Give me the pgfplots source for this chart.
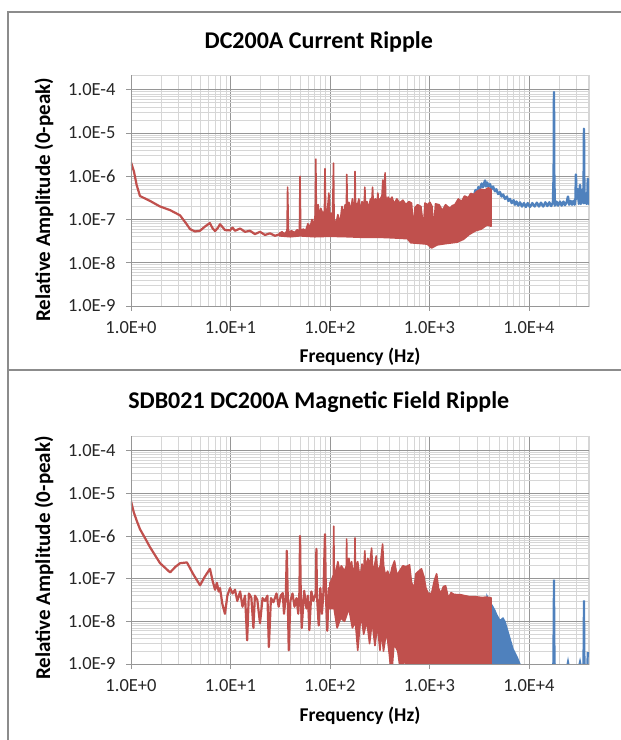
\documentclass[border=0pt]{standalone}
\usepackage{fontspec}
\setmainfont{Carlito}
\usepackage{pgfplots}
\pgfplotsset{compat=1.18}
\definecolor{exred}{HTML}{C0504D}
\definecolor{exblue}{HTML}{4F81BD}
\definecolor{gmaj}{HTML}{969696}
\definecolor{gmin}{HTML}{D6D6D6}
\definecolor{framegray}{HTML}{8C8C8C}

\begin{document}
\begin{tikzpicture}
  \path[use as bounding box] (0,0) rectangle (621pt,740pt);
  \draw[framegray, line width=1.5pt] (8pt,0pt) -- (8pt,728pt) -- (621pt,728pt);
  \draw[framegray, line width=1.5pt] (8pt,370pt) -- (621pt,370pt);

  % ---------- top: current ripple ----------
  \begin{axis}[
      xmode=log, ymode=log, scale only axis, width=458pt, height=231pt,
      at={(131pt,434pt)}, anchor=south west,
      xmin=1, xmax=40100, ymin=1e-9, ymax=2.2e-4,
      xtick={1,10,100,1000,10000},
      xticklabels={1.0E+0,1.0E+1,1.0E+2,1.0E+3,1.0E+4},
      ytick={1e-9,1e-8,1e-7,1e-6,1e-5,1e-4},
      yticklabels={1.0E-9,1.0E-8,1.0E-7,1.0E-6,1.0E-5,1.0E-4},
      minor xtick={2,3,4,5,6,7,8,9,20,30,40,50,60,70,80,90,200,300,400,500,600,700,800,900,
        2000,3000,4000,5000,6000,7000,8000,9000,20000,30000,40000},
      minor ytick={2e-9,3e-9,4e-9,5e-9,6e-9,7e-9,8e-9,9e-9,2e-8,3e-8,4e-8,5e-8,6e-8,7e-8,8e-8,9e-8,
        2e-7,3e-7,4e-7,5e-7,6e-7,7e-7,8e-7,9e-7,2e-6,3e-6,4e-6,5e-6,6e-6,7e-6,8e-6,9e-6,
        2e-5,3e-5,4e-5,5e-5,6e-5,7e-5,8e-5,9e-5},
      grid=both,
      major grid style={gmaj, line width=0.9pt},
      minor grid style={gmin, line width=0.8pt},
      axis line style={gmin, line width=0.9pt},
      tick align=outside, tick pos=left,
      major tick length=5pt, minor tick length=0pt,
      major tick style={gmaj, line width=0.9pt},
      tick label style={font=\fontsize{18.5}{18.5}\selectfont, text=black!85},
      yticklabel style={xshift=-7pt},
      xticklabel style={yshift=-7pt},
      title style={font=\bfseries\fontsize{24}{24}\selectfont, at={(rel axis cs:0.41,1)}, anchor=center, yshift=27pt},
      xlabel style={font=\bfseries\fontsize{19.5}{20}\selectfont, at={(rel axis cs:0.5,0)}, anchor=center, yshift=-51pt},
      ylabel style={font=\bfseries\fontsize{21}{21}\selectfont, at={(rel axis cs:-0.19,0.46)}, anchor=center},
      xlabel={Frequency (Hz)},
      ylabel={Relative Amplitude (0-peak)},
      title={DC200A Current Ripple}]
    % blue (visible above 2.8 kHz)
    \addplot[exblue, line width=2.4pt, line join=round] coordinates {
      (2800,3.6e-7)(2900,4.8e-7)(3000,4.2e-7)(3100,5.6e-7)(3200,5.0e-7)(3350,6.8e-7)
      (3450,5.6e-7)(3613,8.0e-7)(3700,5.8e-7)(3800,7.2e-7)(3900,5.8e-7)(4056,6.6e-7)
      (4200,5.0e-7)(4350,5.8e-7)(4553,4.5e-7)(4700,5.0e-7)(4900,3.9e-7)(5112,4.3e-7)
      (5300,3.4e-7)(5500,3.8e-7)(5738,3.0e-7)(6000,3.4e-7)(6200,2.7e-7)(6442,3.0e-7)
      (6700,2.4e-7)(7000,2.8e-7)(7232,2.2e-7)(7500,2.6e-7)(7800,2.1e-7)(8119,2.5e-7)
      (8500,2.0e-7)(8900,2.4e-7)(9300,1.95e-7)(9700,2.4e-7)(10232,1.95e-7)(10800,2.4e-7)
      (11400,2.0e-7)(12000,2.45e-7)(12600,2.0e-7)(13200,2.45e-7)(13900,2.0e-7)
      (14600,2.5e-7)(15300,2.05e-7)(16000,2.5e-7)(16700,2.05e-7)(17400,2.5e-7)
      (17700,1.1e-6)(17830,8.9e-5)(17960,1.1e-6)(18200,2.1e-7)(18900,2.6e-7)(19600,2.1e-7)
      (20484,2.6e-7)(21300,2.1e-7)(22200,2.6e-7)(23000,2.15e-7)(24000,2.6e-7)(24660,3.4e-7)
      (25300,2.2e-7)(26200,2.7e-7)(27100,2.2e-7)(28000,2.7e-7)(28800,2.2e-7)(29300,3.0e-7)
      (29650,1.1e-6)(30000,3.0e-7)(31000,5.0e-7)(31700,2.3e-7)(32570,6.3e-7)(33200,2.3e-7)
      (34000,3.0e-7)(34600,5.0e-7)(35300,2.4e-7)(35700,1.26e-5)(36100,2.4e-7)(37000,4.0e-7)
      (37800,2.3e-7)(38500,2.8e-7)(39000,8.8e-7)(39500,2.3e-7)(40100,2.7e-7)
    };
    % red, low-frequency trace
    \addplot[exred, line width=2.2pt, line join=round] coordinates {
      (1.0,2.1e-6)(1.07,1.3e-6)(1.14,6.3e-7)(1.23,3.5e-7)(1.55,2.7e-7)(1.96,2.0e-7)
      (2.47,1.65e-7)(3.11,1.25e-7)(3.6,8.0e-8)(3.92,6.0e-8)(4.4,5.3e-8)(4.94,5.5e-8)
      (5.5,6.8e-8)(6.2,8.3e-8)(6.6,6.3e-8)(7.0,5.4e-8)(7.5,6.5e-8)(7.84,7.8e-8)(8.4,6.5e-8)
      (8.8,5.7e-8)(9.9,5.6e-8)(10.5,6.5e-8)(11.1,5.5e-8)(12.5,6.2e-8)(14,5.2e-8)
      (15.7,5.5e-8)(17.6,4.6e-8)(19.8,5.2e-8)(22.2,4.4e-8)(24.9,4.8e-8)(28,4.2e-8)
      (31.4,4.6e-8)(33,4.4e-8)
    };
    % red, dense band: upper envelope then lower envelope
    \addplot[exred, fill=exred, line width=1.6pt, line join=round] coordinates {
      (31,4.8e-8)(33,5.2e-8)(35,4.6e-8)(37,5.5e-8)(37.5,5.6e-7)(38.3,5.0e-8)(41,5.5e-8)
      (44,5.0e-8)(47,5.8e-8)(49.3,5.2e-8)(50,1.0e-6)(50.8,5.5e-8)(54,6.0e-8)(57,5.5e-8)
      (60,8.0e-8)(63,6.5e-8)(66,1.0e-7)(69,7.0e-8)(71,1.3e-7)(72,2.5e-6)(73,1.4e-7)
      (76,2.2e-7)(78,1.2e-7)(81,1.8e-7)(85,1.3e-7)(88,1.6e-7)(89,1.5e-6)(90.5,1.8e-7)
      (94,1.5e-7)(97.5,4.1e-7)(99,1.2e-7)(103,1.4e-7)(106,1.1e-7)(108.5,2.0e-6)(110,1.0e-7)
      (115,8.0e-8)(120,1.3e-7)(126,8.0e-8)(132,2.0e-7)(137,1.2e-7)(142,2.2e-7)(146,1.5e-7)
      (147.5,1.1e-6)(149.5,1.8e-7)(155,2.5e-7)(162,1.6e-7)(168,3.0e-7)(173,1.5e-7)
      (177,2.2e-7)(178.5,1.3e-6)(180.5,2.5e-7)(188,2.0e-7)(195,3.0e-7)(202,1.5e-7)
      (210,2.6e-7)(218,2.0e-7)(222,3.0e-7)(224,5.6e-7)(227,2.3e-7)(235,2.6e-7)(245,1.8e-7)
      (255,3.0e-7)(262,2.2e-7)(268,5.6e-7)(272,2.5e-7)(285,3.0e-7)(298,2.5e-7)(303,4.1e-7)
      (308,2.2e-7)(320,3.0e-7)(333,3.5e-7)(340,8.2e-7)(346,3.5e-7)(352,5.0e-7)(358,1.2e-6)
      (363,3.5e-7)(372,2.5e-7)(385,3.3e-7)(400,2.8e-7)(420,3.3e-7)(440,2.3e-7)(470,3.0e-7)
      (500,2.4e-7)(540,2.8e-7)(580,2.2e-7)(620,2.6e-7)(660,2.4e-7)(690,6.0e-8)(715,1.9e-7)
      (760,2.2e-7)(820,2.0e-7)(870,6.5e-8)(900,2.4e-7)(960,2.2e-7)(1010,2.5e-7)(1060,2.0e-7)
      (1100,6.0e-8)(1150,2.3e-7)(1250,2.2e-7)(1350,1.6e-7)(1450,2.2e-7)(1600,1.8e-7)
      (1700,2.1e-7)(1800,2.2e-7)(1950,3.0e-7)(2100,2.6e-7)(2250,3.5e-7)(2450,3.2e-7)
      (2600,4.0e-7)(2800,3.8e-7)(3000,4.5e-7)(3300,5.0e-7)(3600,4.8e-7)(3900,5.4e-7)
      (4150,5.0e-7)
      (4150,7.0e-8)(3800,7.5e-8)(3300,6.0e-8)(2900,5.5e-8)(2500,4.5e-8)(2200,3.5e-8)
      (1900,3.0e-8)(1500,2.8e-8)(1200,2.6e-8)(1050,2.2e-8)(950,2.7e-8)(800,2.8e-8)
      (650,2.9e-8)(600,3.6e-8)(500,3.7e-8)(400,3.8e-8)(300,3.9e-8)(200,3.9e-8)(150,4.0e-8)
      (100,4.1e-8)(70,4.0e-8)(50,4.2e-8)(40,4.0e-8)(31,4.2e-8)
    } -- cycle;
    \draw[gmaj, line width=0.9pt] (rel axis cs:0,1) -- (rel axis cs:0,0) -- (rel axis cs:1,0);
  \end{axis}

  % ---------- bottom: magnetic field ripple ----------
  \begin{axis}[
      xmode=log, ymode=log, scale only axis, width=458pt, height=228pt,
      at={(131pt,76pt)}, anchor=south west,
      xmin=1, xmax=40100, ymin=1e-9, ymax=2.2e-4,
      xtick={1,10,100,1000,10000},
      xticklabels={1.0E+0,1.0E+1,1.0E+2,1.0E+3,1.0E+4},
      ytick={1e-9,1e-8,1e-7,1e-6,1e-5,1e-4},
      yticklabels={1.0E-9,1.0E-8,1.0E-7,1.0E-6,1.0E-5,1.0E-4},
      minor xtick={2,3,4,5,6,7,8,9,20,30,40,50,60,70,80,90,200,300,400,500,600,700,800,900,
        2000,3000,4000,5000,6000,7000,8000,9000,20000,30000,40000},
      minor ytick={2e-9,3e-9,4e-9,5e-9,6e-9,7e-9,8e-9,9e-9,2e-8,3e-8,4e-8,5e-8,6e-8,7e-8,8e-8,9e-8,
        2e-7,3e-7,4e-7,5e-7,6e-7,7e-7,8e-7,9e-7,2e-6,3e-6,4e-6,5e-6,6e-6,7e-6,8e-6,9e-6,
        2e-5,3e-5,4e-5,5e-5,6e-5,7e-5,8e-5,9e-5},
      grid=both,
      major grid style={gmaj, line width=0.9pt},
      minor grid style={gmin, line width=0.8pt},
      axis line style={gmin, line width=0.9pt},
      tick align=outside, tick pos=left,
      major tick length=5pt, minor tick length=0pt,
      major tick style={gmaj, line width=0.9pt},
      tick label style={font=\fontsize{18.5}{18.5}\selectfont, text=black!85},
      yticklabel style={xshift=-7pt},
      xticklabel style={yshift=-7pt},
      title style={font=\bfseries\fontsize{24}{24}\selectfont, at={(rel axis cs:0.41,1)}, anchor=center, yshift=28pt},
      xlabel style={font=\bfseries\fontsize{19.5}{20}\selectfont, at={(rel axis cs:0.5,0)}, anchor=center, yshift=-52pt},
      ylabel style={font=\bfseries\fontsize{21}{21}\selectfont, at={(rel axis cs:-0.19,0.465)}, anchor=center},
      xlabel={Frequency (Hz)},
      ylabel={Relative Amplitude (0-peak)},
      title={SDB021 DC200A Magnetic Field Ripple}]
    % blue hump above the red trace end
    \addplot[exblue, fill=exblue, line width=1.2pt] coordinates {
      (3784,4.0e-8)(4150,2.6e-8)(4347,2.2e-8)(4553,1.8e-8)(4768,1.4e-8)(5112,1.05e-8)
      (5478,1.2e-8)(5738,1.0e-8)(6009,7.0e-9)(6442,4.0e-9)(6902,2.3e-9)(7568,1.5e-9)
      (8119,1.0e-9)(8119,5e-10)(3784,5e-10)
    } -- cycle;
    \addplot[exblue, line width=2.2pt] coordinates {
      (8119,8e-10)(17400,8e-10)(17600,1.1e-9)(17830,9.5e-8)(18050,1.1e-9)(18300,8e-10)
      (24000,8e-10)(24660,1.1e-9)(25300,8e-10)(31500,8e-10)(32570,1.1e-9)(33500,8e-10)
      (35300,1.0e-9)(35700,3.1e-8)(36100,1.0e-9)(38500,8e-10)(39000,1.8e-9)(40100,1.8e-9)
    };
    % red, low-frequency trace
    \addplot[exred, line width=2.2pt, line join=round] coordinates {
      (1,6.5e-6)(1.07,3.5e-6)(1.14,2.3e-6)(1.23,1.45e-6)(1.4,8.5e-7)(1.55,5.5e-7)
      (1.75,3.5e-7)(1.96,2.3e-7)(2.2,1.8e-7)(2.47,1.4e-7)(2.8,1.9e-7)(3.11,2.3e-7)
      (3.65,2.4e-7)(4.2,1.3e-7)(4.94,7.0e-8)(5.5,1.1e-7)(6.22,1.7e-7)(6.6,9.0e-8)
      (7.0,5.5e-8)(7.3,8.0e-8)(7.6,5.0e-8)(7.84,6.0e-8)(8.3,2.5e-8)(8.8,1.5e-8)(9.3,4.0e-8)
      (9.9,6.0e-8)(10.5,4.5e-8)(11.1,5.5e-8)(11.7,3.0e-8)(12.5,5.0e-8)(13.2,2.2e-8)
      (14,4.0e-8)(14.7,3.6e-9)(15.3,4.5e-8)(16.2,3.6e-8)(17,7.0e-9)(17.6,4.0e-8)
      (18.6,3.2e-8)(19.8,9.0e-9)(21,3.5e-8)(22.2,3.0e-8)(23.5,4.0e-8)(24.3,2.5e-9)
      (25.5,3.5e-8)(27,2.8e-8)(29,4.5e-8)(30.5,2.2e-8)(32,4.0e-8)(33.5,4.6e-8)(34.5,1.5e-8)
      (36,4.0e-8)(36.8,4.5e-7)(37.6,4.0e-8)(38.5,2.1e-9)(40,3.0e-8)(42,4.5e-8)(44,2.2e-8)
      (46,3.5e-8)(48,1.5e-8)(49.3,5.0e-8)(50,1.0e-6)(50.8,5.0e-8)(52,7.0e-9)(55,5.2e-8)
      (58,2.0e-8)(60,4.0e-8)(62,6.2e-9)(65,5.0e-8)(68,3.0e-8)(72,4.5e-8)(73,5.0e-7)
      (74,4.0e-8)(77,8.0e-9)(80,6.0e-8)(83,1.5e-8)(86,5.0e-8)(89,1.1e-6)(91,4.0e-8)
      (94,6.0e-9)(97,6.0e-8)(100,2.0e-8)(103,8.0e-8)
    };
    % red, dense band: upper envelope then lower envelope
    \addplot[exred, fill=exred, line width=1.6pt, line join=round] coordinates {
      (100,8.0e-8)(105,1.0e-7)(108,1.2e-7)(109,1.7e-6)(110.5,1.2e-7)(115,1.5e-7)
      (120,2.5e-7)(125,1.5e-7)(130,2.0e-7)(140,1.5e-7)(146,2.0e-7)(147,8.5e-7)(148.5,2.0e-7)
      (155,3.0e-7)(160,1.6e-7)(165,2.5e-7)(170,1.2e-7)(177,2.0e-7)(178.5,9.0e-7)
      (180,1.8e-7)(190,2.5e-7)(200,1.0e-7)(210,2.2e-7)(218,1.5e-7)(224,4.5e-7)(228,1.5e-7)
      (240,3.0e-7)(250,2.0e-7)(262,5.2e-7)(268,1.6e-7)(280,2.0e-7)(292,3.4e-7)(300,1.5e-7)
      (320,2.0e-7)(338,6.5e-7)(346,2.0e-7)(360,1.2e-7)(380,1.5e-7)(400,1.05e-7)
      (420,1.8e-7)(445,2.6e-7)(470,1.2e-7)(500,1.5e-7)(540,2.0e-7)(580,1.9e-7)(630,2.1e-7)
      (660,8.0e-8)(700,6.0e-8)(730,1.3e-7)(780,1.5e-7)(830,1.7e-7)(880,1.1e-7)(920,6.0e-8)
      (970,4.5e-8)(1050,4.5e-8)(1120,9.0e-8)(1180,1.3e-7)(1230,6.0e-8)(1300,4.5e-8)
      (1380,6.5e-8)(1450,6.8e-8)(1550,3.5e-8)(1650,4.7e-8)(1750,4.3e-8)(1900,4.2e-8)
      (2050,4.2e-8)(2250,4.0e-8)(2500,3.8e-8)(2800,3.8e-8)(3100,3.7e-8)(3400,3.6e-8)
      (3700,3.7e-8)(4000,3.6e-8)(4150,3.6e-8)
      (4150,5e-10)(600,5e-10)(560,1.5e-9)(520,5e-10)(480,2.0e-9)(440,3.0e-9)(415,5e-10)
      (395,1.7e-9)(370,6.0e-9)(345,2.0e-9)(330,6.0e-9)(318,2.1e-9)(300,8.0e-9)(283,2.7e-9)
      (265,1.0e-8)(250,3.0e-9)(235,1.0e-8)(218,5.0e-9)(205,1.5e-8)(190,2.1e-9)(180,1.0e-8)
      (168,7.0e-9)(155,2.0e-8)(140,1.0e-8)(128,1.2e-8)(118,7.0e-9)(110,2.0e-8)(100,2.0e-8)
    } -- cycle;
    \draw[gmaj, line width=0.9pt] (rel axis cs:0,1) -- (rel axis cs:0,0) -- (rel axis cs:1,0);
  \end{axis}
\end{tikzpicture}
\end{document}
